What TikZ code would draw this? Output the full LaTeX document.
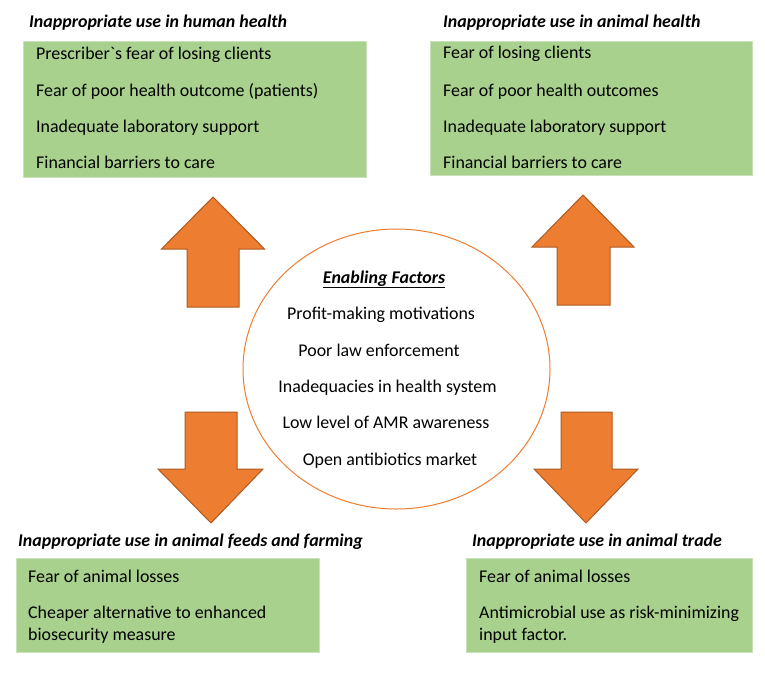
\documentclass[tikz,border=0pt]{standalone}
\usepackage{fontspec}
\setmainfont{Carlito}
\usepackage{xcolor}
\usetikzlibrary{shapes.geometric,positioning}

\definecolor{boxgreen}{HTML}{A9D18E}
\definecolor{boxedge}{HTML}{C9E1B9}
\definecolor{arrorange}{HTML}{ED7D31}
\definecolor{arredge}{HTML}{AE5A21}

\begin{document}
\begin{tikzpicture}[
  x=1pt, y=-1pt,
  greenbox/.style={rectangle, fill=boxgreen, draw=boxedge, line width=0.8pt,
    anchor=north west, inner sep=0pt},
  item/.style={anchor=base west, inner sep=0pt, font=\fontsize{17.9}{20}\selectfont},
  hubitem/.style={item, anchor=base},
  heading/.style={item, font=\fontsize{17.9}{20}\selectfont\bfseries\itshape},
  fatarrow/.style={fill=arrorange, draw=arredge, line width=1pt, line join=miter},
]
\useasboundingbox (0,0) rectangle (765,673);

% --- Top left: human health ---
\node[heading] (hhtitle) at (29,27) {Inappropriate use in human health};
\node[greenbox, minimum width=343pt, minimum height=136pt] (hhbox) at (23,41) {};
\node[item] (hh1) at (36,59)  {Prescriber\textasciigrave s fear of losing clients};
\node[item] (hh2) at (36,96)  {Fear of poor health outcome (patients)};
\node[item] (hh3) at (36,132) {Inadequate laboratory support};
\node[item] (hh4) at (36,168) {Financial barriers to care};

% --- Top right: animal health ---
\node[heading] (ahtitle) at (443,27) {Inappropriate use in animal health};
\node[greenbox, minimum width=322pt, minimum height=134pt] (ahbox) at (430,41) {};
\node[item] (ah1) at (443,58)  {Fear of losing clients};
\node[item] (ah2) at (443,96)  {Fear of poor health outcomes};
\node[item] (ah3) at (443,132) {Inadequate laboratory support};
\node[item] (ah4) at (443,168) {Financial barriers to care};

% --- Centre: enabling factors ---
\node[ellipse, draw=arrorange, line width=1pt, fill=white,
  minimum width=307pt, minimum height=280pt] (hub) at (396.5,369) {};
\node[hubitem, font=\fontsize{17.9}{20}\selectfont\bfseries\itshape] (hubtitle) at (384,283)
  {\underline{Enabling Factors}};
\node[hubitem] (ef1) at (381,319) {Profit-making motivations};
\node[hubitem] (ef2) at (379,356) {Poor law enforcement};
\node[hubitem] (ef3) at (387.5,392) {Inadequacies in health system};
\node[hubitem] (ef4) at (386,428) {Low level of AMR awareness};
\node[hubitem] (ef5) at (390,465) {Open antibiotics market};

% --- Block arrows ---
\draw[fatarrow] (213,197) -- (264.5,249) -- (239,249) -- (239,307)
  -- (187,307) -- (187,249) -- (161.5,249) -- cycle;
\draw[fatarrow] (583,195) -- (634,247) -- (610,247) -- (610,305)
  -- (557,305) -- (557,247) -- (532,247) -- cycle;
\draw[fatarrow] (211,523) -- (263,469) -- (237,469) -- (237,412)
  -- (185,412) -- (185,469) -- (158,469) -- cycle;
\draw[fatarrow] (586,523) -- (638,469) -- (612,469) -- (612,412)
  -- (561,412) -- (561,469) -- (534,469) -- cycle;

% --- Bottom left: feeds and farming ---
\node[heading] (fftitle) at (18,546) {Inappropriate use in animal feeds and farming};
\node[greenbox, minimum width=303pt, minimum height=94pt] (ffbox) at (16,558) {};
\node[item] (ff1) at (28,582) {Fear of animal losses};
\node[item] (ff2) at (28,618) {Cheaper alternative to enhanced};
\node[item] (ff3) at (28,640) {biosecurity measure};

% --- Bottom right: animal trade ---
\node[heading] (attitle) at (472,546) {Inappropriate use in animal trade};
\node[greenbox, minimum width=286pt, minimum height=94pt] (atbox) at (466,558) {};
\node[item] (at1) at (479,582) {Fear of animal losses};
\node[item] (at2) at (479,618) {Antimicrobial use as risk-minimizing};
\node[item] (at3) at (479,640) {input factor.};
\end{tikzpicture}
\end{document}
